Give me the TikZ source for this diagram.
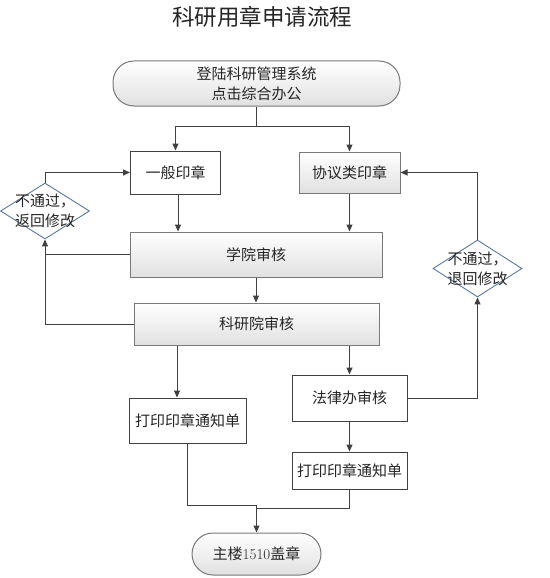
\documentclass[tikz,border=0pt]{standalone}
\usepackage{fontspec}
\newfontfamily\cjk{Noto Sans CJK SC}
\usetikzlibrary{shapes.geometric,arrows.meta,calc}
\definecolor{linec}{RGB}{64,64,64}
\definecolor{dia}{RGB}{90,120,160}
\definecolor{gbord}{RGB}{120,120,120}
\tikzset{
  txt/.style={font=\cjk\fontsize{15}{20}\selectfont, text=black!85, align=center, inner sep=0pt},
  wbox/.style={txt, draw=linec, line width=1pt, fill=white, rectangle},
  gbox/.style={txt, draw=gbord, line width=1pt, rectangle, top color=white, bottom color=black!12},
  term/.style={txt, draw=gbord, line width=1pt, rectangle, rounded corners=21pt, top color=white, bottom color=black!12},
  dbox/.style={txt, draw=dia, line width=0.9pt, fill=white, diamond, aspect=1.6, inner xsep=-30pt, inner ysep=-22pt},
  conn/.style={draw=linec, line width=1pt},
  arr/.style={conn, -{Triangle[length=7pt,width=6pt]}, shorten >=0pt}
}
\begin{document}
\begin{tikzpicture}[x=1pt,y=-1pt]
\useasboundingbox (0,0) rectangle (549,578);
\node[txt, font=\cjk\fontsize{22.5}{26}\selectfont] (title) at (262,17) {科研用章申请流程};
\node[term, minimum width=287, minimum height=45] (start) at (256.5,83.5) {登陆科研管理系统\\点击综合办公};
\node[wbox, minimum width=90, minimum height=43] (g1) at (175.5,172.5) {一般印章};
\node[gbox, minimum width=101, minimum height=41] (g2) at (349.5,172.5) {协议类印章};
\node[gbox, minimum width=252, minimum height=45] (xy) at (256,254.5) {学院审核};
\node[gbox, minimum width=245, minimum height=42] (ky) at (256.5,324) {科研院审核};
\node[dbox, minimum width=89, minimum height=56] (dl) at (45,211) {不通过，\\返回修改};
\node[dbox, minimum width=89, minimum height=57] (dr) at (477.5,268.5) {不通过，\\退回修改};
\node[wbox, minimum width=117, minimum height=45] (pl) at (187.5,420.5) {打印印章通知单};
\node[wbox, minimum width=115, minimum height=46] (fl) at (349.5,398) {法律办审核};
\node[wbox, minimum width=115, minimum height=37] (pr) at (349.5,470.5) {打印印章通知单};
\node[term, minimum width=129, minimum height=42] (end) at (256.5,554) {主楼{\rmfamily 1510}盖章};

\coordinate (c1) at (256.5,126);
\draw[conn] (start.south) -- (c1);
\draw[arr] (c1) -| (g1.north);
\draw[arr] (c1) -| (g2.north);
\draw[arr] ([xshift=2.5]g1.south) -- ([xshift=2.5]g1.south |- xy.north);
\draw[arr] (g2.south) -- (g2.south |- xy.north);
\draw[arr] (xy.south) -- (xy.south |- ky.north);
\draw[arr] (xy.west) -| (dl.south);
\draw[conn] (ky.west) -| (dl.south |- xy.west);
\draw[arr] (dl.north) |- (g1.west);
\draw[arr] ([xshift=-10.5]pl.north |- ky.south) -- ([xshift=-10.5]pl.north);
\draw[arr] (fl.north |- ky.south) -- (fl.north);
\draw[arr] (fl.east) -| (dr.south);
\draw[arr] (dr.north) |- (g2.east);
\draw[arr] (fl.south) -- (pr.north);
\coordinate (m) at (256.5,505.5);
\draw[conn] (pl.south) |- (m);
\draw[conn] (pr.south) |- ([yshift=-2.5]m);
\draw[arr] (m) -- (end.north);
\end{tikzpicture}
\end{document}
